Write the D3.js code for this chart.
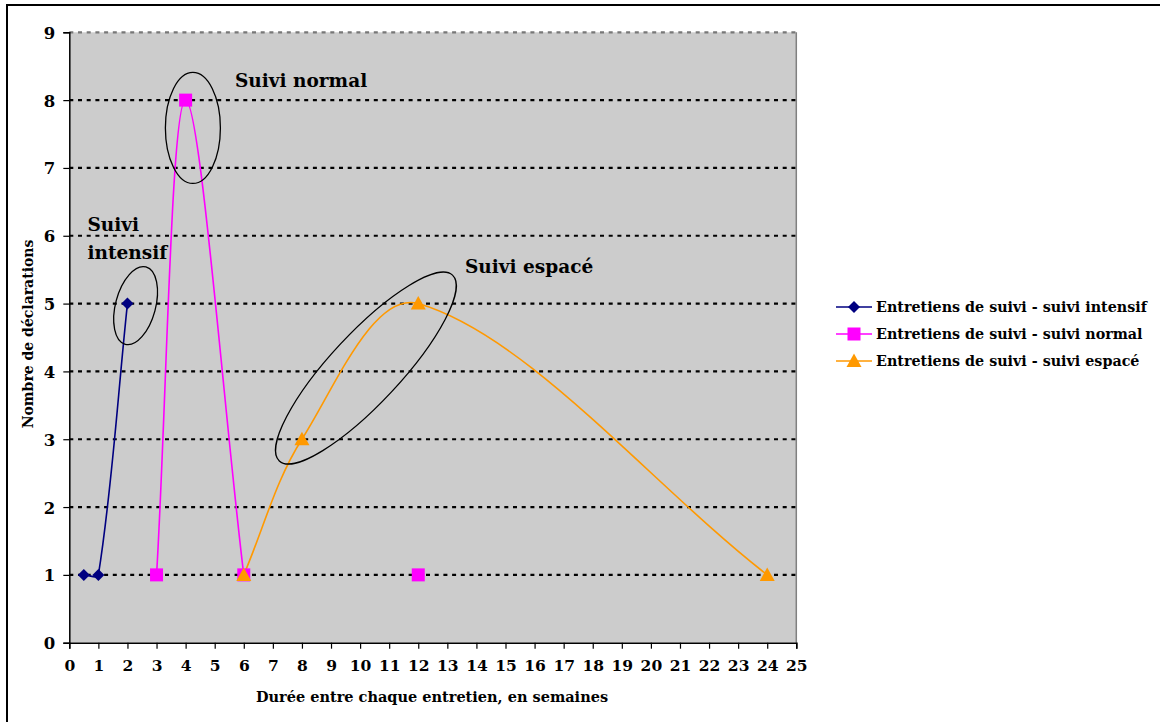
<!DOCTYPE html>
<html>
<head>
<meta charset="utf-8">
<script src="https://cdn.jsdelivr.net/npm/d3@7"></script>
<style>
  html, body { margin: 0; padding: 0; background: #fff; }
  svg { display: block; }
  text { font-family: "DejaVu Serif", serif; font-weight: bold; fill: #000; }
</style>
</head>
<body>
<svg id="chart" width="1160" height="722"></svg>
<script>
// ---- data ----
const intensifX = [0.5, 1, 2];
const intensifY = [1, 1, 5];
const normalX = [3, 4, 6, 12];
const normalY = [1, 8, 1, 1];
const normalBreakAfter = 2; // line is not drawn between index 2 and 3
const espaceX = [6, 8, 12, 24];
const espaceY = [1, 3, 5, 1];
const xTicks = d3.range(0, 26);
const yTicks = d3.range(0, 10);
const seriesNames = [
  "Entretiens de suivi - suivi intensif",
  "Entretiens de suivi - suivi normal",
  "Entretiens de suivi - suivi espacé"
];
const annotationLabels = ["Suivi normal", "Suivi", "intensif", "Suivi espacé"];
const xTitle = "Durée entre chaque entretien, en semaines";
const yTitle = "Nombre de déclarations";

// ---- layout ----
const svg = d3.select("#chart");
const plot = { left: 69.3, top: 32.3, right: 796.3, bottom: 642.7 };
const x = d3.scaleLinear().domain([0, 25]).range([plot.left, plot.right]);
const y = d3.scaleLinear().domain([0, 9]).range([plot.bottom, plot.top]);

const colors = ["#000080", "#FF00FF", "#FF9900"];

// outer frame
svg.append("rect").attr("x", 7).attr("y", 5).attr("width", 1200).attr("height", 800)
  .attr("fill", "#fff").attr("stroke", "#000").attr("stroke-width", 2);

// plot background
svg.append("rect").attr("x", plot.left).attr("y", plot.top)
  .attr("width", plot.right - plot.left).attr("height", plot.bottom - plot.top)
  .attr("fill", "#cccccc");

// right border (gray)
svg.append("line").attr("x1", plot.right).attr("x2", plot.right)
  .attr("y1", plot.top).attr("y2", plot.bottom).attr("stroke", "#808080").attr("stroke-width", 1.5);

// gridlines
svg.append("g").selectAll("line").data(yTicks.filter(d => d > 0)).join("line")
  .attr("x1", plot.left).attr("x2", plot.right)
  .attr("y1", d => y(d)).attr("y2", d => y(d))
  .attr("stroke", d => d === 9 ? "#777" : "#000")
  .attr("stroke-width", 2.2)
  .attr("stroke-dasharray", "4,4.7");

// axes
const xAxis = d3.axisBottom(x).tickValues(xTicks).tickSize(6).tickPadding(8).tickFormat(d3.format("d"));
const yAxis = d3.axisLeft(y).tickValues(yTicks).tickSize(6).tickPadding(8).tickFormat(d3.format("d"));
const gx = svg.append("g").attr("transform", `translate(0,${plot.bottom})`).call(xAxis);
const gy = svg.append("g").attr("transform", `translate(${plot.left},0)`).call(yAxis);
[gx, gy].forEach(g => {
  g.select(".domain").attr("stroke", "#000").attr("stroke-width", 1.5);
  g.selectAll(".tick line").attr("stroke", "#000").attr("stroke-width", 1.2);
  g.selectAll(".tick text").style("font-family", "DejaVu Serif, serif")
    .style("font-weight", "bold").style("font-size", "15.5px").attr("fill", "#000");
});
gx.selectAll(".tick text").attr("dy", "0.95em");
gy.selectAll(".tick text").attr("dy", "0.36em").style("font-size", "16.5px");

// axis titles
svg.append("text").attr("x", 432).attr("y", 702)
  .attr("text-anchor", "middle").style("font-size", "14.5px").text(xTitle);
svg.append("text").attr("transform", `translate(33,334) rotate(-90)`)
  .attr("text-anchor", "middle").style("font-size", "14px").text(yTitle);

// ---- lines (Excel-like smoothing: chord-length scaled Bezier tangents) ----
function smoothPath(pts) {
  const p = pts.map(d => [x(d[0]), y(d[1])]);
  const n = p.length;
  const path = d3.path();
  if (!n) return "";
  path.moveTo(p[0][0], p[0][1]);
  const dist = (a, b) => Math.hypot(b[0] - a[0], b[1] - a[1]);
  const seg = [];
  for (let i = 0; i < n - 1; i++) seg.push(dist(p[i], p[i + 1]));
  const tan = p.map((pt, i) => {
    if (i === 0) return [(p[1][0] - pt[0]) / seg[0], (p[1][1] - pt[1]) / seg[0]];
    if (i === n - 1) return [(pt[0] - p[i - 1][0]) / seg[i - 1], (pt[1] - p[i - 1][1]) / seg[i - 1]];
    const s = seg[i - 1] + seg[i];
    return [(p[i + 1][0] - p[i - 1][0]) / s, (p[i + 1][1] - p[i - 1][1]) / s];
  });
  for (let i = 0; i < n - 1; i++) {
    const L = seg[i] / 3;
    path.bezierCurveTo(
      p[i][0] + tan[i][0] * L, p[i][1] + tan[i][1] * L,
      p[i + 1][0] - tan[i + 1][0] * L, p[i + 1][1] - tan[i + 1][1] * L,
      p[i + 1][0], p[i + 1][1]);
  }
  return path.toString();
}
const intensifPts = intensifX.map((v, i) => [v, intensifY[i]]);
const normalPts = normalX.map((v, i) => [v, normalY[i]]);
const espacePts = espaceX.map((v, i) => [v, espaceY[i]]);

svg.append("path").attr("d", smoothPath(intensifPts)).attr("fill", "none").attr("stroke", colors[0]).attr("stroke-width", 1.6);
svg.append("path").attr("d", smoothPath(normalPts.slice(0, normalBreakAfter + 1))).attr("fill", "none").attr("stroke", colors[1]).attr("stroke-width", 1.6);
svg.append("path").attr("d", smoothPath(espacePts)).attr("fill", "none").attr("stroke", colors[2]).attr("stroke-width", 1.6);

// markers
const symDiamond = d3.symbol().type(d3.symbolSquare).size(72);
function drawDiamond(g, px, py, c) {
  g.append("path").attr("d", symDiamond()).attr("transform", `translate(${px},${py}) rotate(45)`).attr("fill", c);
}
function drawSquare(g, px, py, c) {
  g.append("rect").attr("x", px - 6.5).attr("y", py - 6.5).attr("width", 13).attr("height", 13).attr("fill", c);
}
function drawTriangle(g, px, py, c) {
  g.append("path").attr("d", `M${px},${py - 7.5}L${px + 7.5},${py + 6}L${px - 7.5},${py + 6}Z`).attr("fill", c);
}
const mg = svg.append("g");
intensifPts.forEach(p => drawDiamond(mg, x(p[0]), y(p[1]), colors[0]));
normalPts.forEach(p => drawSquare(mg, x(p[0]), y(p[1]), colors[1]));
espacePts.forEach(p => drawTriangle(mg, x(p[0]), y(p[1]), colors[2]));

// ---- annotations: ellipses ----
const ellipses = [
  { cx: 2.28, cy: 4.97, rx: 20, ry: 40, rot: 15 },
  { cx: 4.25, cy: 7.59, rx: 27.5, ry: 55.5, rot: 0 },
  { cx: 10.2, cy: 4.05, rx: 127, ry: 35, rot: -47 }
];
svg.append("g").selectAll("ellipse").data(ellipses).join("ellipse")
  .attr("cx", 0).attr("cy", 0).attr("rx", d => d.rx).attr("ry", d => d.ry)
  .attr("transform", d => `translate(${x(d.cx)},${y(d.cy)}) rotate(${d.rot})`)
  .attr("fill", "none").attr("stroke", "#000").attr("stroke-width", 1.3);

// annotation labels
const ann = [
  { t: annotationLabels[0], px: 235, py: 87 },
  { t: annotationLabels[1], px: 87.5, py: 231 },
  { t: annotationLabels[2], px: 87.5, py: 259 },
  { t: annotationLabels[3], px: 465, py: 273 }
];
svg.append("g").selectAll("text").data(ann).join("text")
  .attr("x", d => d.px).attr("y", d => d.py).style("font-size", "18.5px").text(d => d.t);

// ---- legend ----
const legend = svg.append("g");
const legY = [307, 334, 361];
seriesNames.forEach((name, i) => {
  const ly = legY[i];
  legend.append("line").attr("x1", 836).attr("x2", 872).attr("y1", ly).attr("y2", ly)
    .attr("stroke", colors[i]).attr("stroke-width", 1.6);
  if (i === 0) drawDiamond(legend, 854, ly, colors[0]);
  if (i === 1) drawSquare(legend, 854, ly, colors[1]);
  if (i === 2) drawTriangle(legend, 854, ly, colors[2]);
  legend.append("text").attr("x", 876).attr("y", ly + 5).style("font-size", "14.3px").text(name);
});
</script>
</body>
</html>
